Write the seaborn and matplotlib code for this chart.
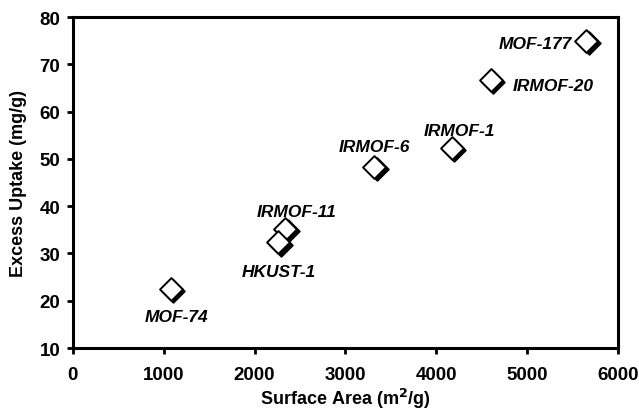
import matplotlib
matplotlib.use('Agg')
import matplotlib.pyplot as plt
import matplotlib.transforms as mtransforms
import seaborn as sns
import pandas as pd

# --- data ---
materials = ['MOF-177', 'IRMOF-20', 'IRMOF-1', 'IRMOF-6',
             'IRMOF-11', 'HKUST-1', 'MOF-74']
surface_area = [5650, 4600, 4170, 3320, 2340, 2260, 1080]
excess_uptake = [75.0, 66.7, 52.3, 48.3, 35.2, 32.4, 22.5]

df = pd.DataFrame({'Material': materials,
                   'SurfaceArea': surface_area,
                   'Uptake': excess_uptake})

# label placement (pixel offsets from the point, alignment)
label_style = {
    'MOF-177':  ((-14, -3), 'right', 'center'),
    'IRMOF-20': ((22, -6), 'left', 'center'),
    'IRMOF-1':  ((8, 17), 'center', 'center'),
    'IRMOF-6':  ((0, 20), 'center', 'center'),
    'IRMOF-11': ((11, 17), 'center', 'center'),
    'HKUST-1':  ((1, -29), 'center', 'center'),
    'MOF-74':   ((6, -28), 'center', 'center'),
}

sns.set_style('ticks')
plt.rcParams['font.family'] = ['Liberation Sans', 'DejaVu Sans']
plt.rcParams['font.weight'] = 'bold'
plt.rcParams['text.color'] = 'black'
plt.rcParams['axes.labelcolor'] = 'black'
plt.rcParams['xtick.color'] = 'black'
plt.rcParams['ytick.color'] = 'black'

fig = plt.figure(figsize=(6.39, 4.14), dpi=100)
ax = fig.add_axes([0.114, 0.157, 0.853, 0.7995])

# shadow layer: black diamonds shifted right/down
shadow = ax.transData + mtransforms.ScaledTranslation(2.5 / 100, -2.5 / 100,
                                                      fig.dpi_scale_trans)
sns.scatterplot(data=df, x='SurfaceArea', y='Uptake', ax=ax, marker='D',
                s=135, color='black', edgecolor='black', linewidth=1.2,
                transform=shadow, zorder=3, legend=False)
sns.scatterplot(data=df, x='SurfaceArea', y='Uptake', ax=ax, marker='D',
                s=135, color='white', edgecolor='black', linewidth=1.4,
                zorder=4, legend=False)

for _, row in df.iterrows():
    off, ha, va = label_style[row['Material']]
    ax.annotate(row['Material'], (row['SurfaceArea'], row['Uptake']),
                xytext=off, textcoords='offset pixels', ha=ha, va=va,
                fontsize=12.5, fontweight='bold', fontstyle='italic',
                color='black', zorder=5)

ax.set_xlim(0, 6000)
ax.set_ylim(10, 80)
ax.set_xticks(range(0, 6001, 1000))
ax.set_yticks(range(10, 81, 10))
ax.set_xlabel('Surface Area (m$^\\mathbf{2}$/g)', fontsize=13,
              fontweight='bold', labelpad=2)
ax.set_ylabel('Excess Uptake (mg/g)', fontsize=13, fontweight='bold',
              labelpad=9)
ax.tick_params(axis='both', labelsize=13.5, width=2, length=4, color='black')
ax.tick_params(axis='x', pad=9)
ax.tick_params(axis='y', pad=5)
for lab in ax.get_xticklabels() + ax.get_yticklabels():
    lab.set_fontweight('bold')
for sp in ax.spines.values():
    sp.set_linewidth(2.2)
    sp.set_color('black')
    sp.set_visible(True)

fig.savefig('out.png', dpi=100)
